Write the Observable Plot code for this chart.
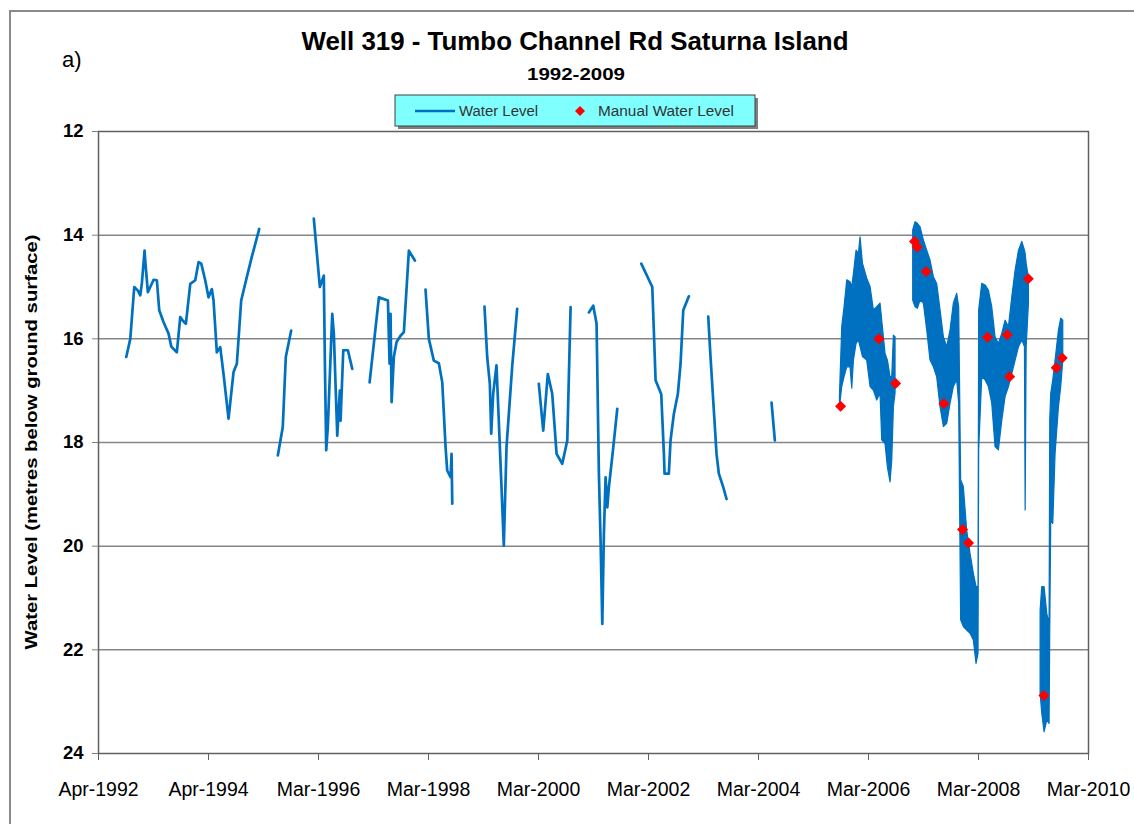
<!DOCTYPE html>
<html>
<head>
<meta charset="utf-8">
<script src="https://cdn.jsdelivr.net/npm/d3@7"></script>
<script src="https://cdn.jsdelivr.net/npm/@observablehq/plot@0.6"></script>
<style>
  html, body { margin: 0; padding: 0; background: #fff; overflow: hidden; }
  #wrap { position: relative; width: 1134px; height: 824px; overflow: hidden;
          font-family: "Liberation Sans", "DejaVu Sans", sans-serif; }
  #outer { position: absolute; left: 9px; top: 10px; width: 1140px; height: 830px;
           border: 2px solid #8a8a8a; box-sizing: border-box; }
  #chart { position: absolute; left: 0; top: 0; }
  #ov { position: absolute; left: 0; top: 0; pointer-events: none; }
</style>
</head>
<body>
<div id="wrap">
  <div id="outer"></div>
  <div id="chart"></div>
  <svg id="ov" width="1134" height="824" xmlns="http://www.w3.org/2000/svg"></svg>
</div>
<script>
// ---------------- DATA ----------------
const chartTitle = "Well 319 - Tumbo Channel Rd Saturna Island";
const chartSubtitle = "1992-2009";
const panelTag = "a)";
const yTitle = "Water Level (metres below ground surface)";
const legendNames = ["Water Level", "Manual Water Level"];

const xTickDates = ["1992-04-01", "1994-04-01", "1996-03-31", "1998-03-31", "2000-03-30",
                    "2002-03-30", "2004-03-29", "2006-03-29", "2008-03-28", "2010-03-28"];
const xTickLabels = ["Apr-1992", "Apr-1994", "Mar-1996", "Mar-1998", "Mar-2000",
                     "Mar-2002", "Mar-2004", "Mar-2006", "Mar-2008", "Mar-2010"];
const yTicks = [12, 14, 16, 18, 20, 22, 24];
const yGrid = [14, 16, 18, 20, 22];

// Logger record (decimal year, metres below ground); null marks a gap in the record
const loggerYear = [
  1992.752,1992.825,1992.897,1992.963,1993.006,1993.035,1993.084,1993.097,1993.144,1993.188,
  1993.248,1993.308,1993.351,1993.430,1993.520,1993.570,1993.671,1993.733,1993.780,1993.835,
  1993.915,1994.006,1994.066,1994.115,1994.187,1994.247,1994.307,1994.338,1994.398,1994.460,
  1994.520,1994.611,1994.702,1994.762,1994.841,1994.943,1995.034,1995.169, null,
  1995.507,1995.597,1995.652,1995.750, null,
  1996.161,1996.270,1996.342,1996.361,1996.386,1996.415,1996.495,1996.524,1996.586,1996.633,
  1996.646,1996.695,1996.779,1996.858, null,
  1997.173,1997.342,1997.506,1997.536,1997.554,1997.573,1997.614,1997.663,1997.736,1997.796,
  1997.887,1997.996, null,
  1998.190,1998.250,1998.341,1998.432,1998.494,1998.554,1998.584,1998.645,1998.663,1998.676, null,
  1999.262,1999.311,1999.359,1999.384,1999.420,1999.480,1999.522,1999.566,1999.613,1999.662,
  1999.765,1999.856, null,
  2000.249,2000.329,2000.412,2000.492,2000.571,2000.674,2000.765,2000.825, null,
  2001.157,2001.237,2001.297,2001.339,2001.370,2001.401,2001.430,2001.461,2001.492,2001.521,
  2001.601,2001.673, null,
  2002.110,2002.310,2002.370,2002.473,2002.521,2002.533,2002.611,2002.642,2002.702,2002.775,
  2002.824,2002.873,2002.975, null,
  2003.327,2003.369,2003.418,2003.478,2003.520,2003.600,2003.660, null,
  2004.477,2004.537
];
const loggerLevel = [
  16.35,16.00,15.00,15.07,15.16,14.93,14.30,14.50,15.10,15.00,
  14.86,14.87,15.45,15.68,15.90,16.15,16.26,15.58,15.65,15.71,
  14.94,14.87,14.52,14.55,14.87,15.20,15.04,15.26,16.26,16.16,
  16.68,17.54,16.64,16.48,15.26,14.81,14.42,13.88, null,
  18.25,17.70,16.35,15.84, null,
  13.68,15.00,14.78,16.42,18.15,17.70,15.52,15.90,17.87,17.00,
  17.58,16.22,16.22,16.58, null,
  16.84,15.20,15.26,16.48,15.52,17.22,16.35,16.06,15.94,15.87,
  14.30,14.49, null,
  15.05,16.00,16.42,16.47,16.84,18.09,18.54,18.67,18.22,19.18, null,
  15.38,16.35,16.87,17.83,17.06,16.51,17.58,18.73,19.99,18.09,
  16.54,15.42, null,
  16.87,17.77,16.68,17.06,18.22,18.41,17.96,15.39, null,
  15.49,15.36,15.71,18.60,19.89,21.50,19.76,18.67,19.25,18.86,
  18.09,17.35, null,
  14.55,15.00,16.80,17.07,18.22,18.60,18.60,17.96,17.45,17.06,
  16.48,15.45,15.18, null,
  15.57,16.35,17.19,18.22,18.60,18.86,19.09, null,
  17.23,17.96
];

// High-frequency logger record 2005-2009: range of the daily swings (shallowest / deepest)
const denseYear = [
  2005.719,2005.761,2005.803,2005.852,2005.912,2005.943,2005.973,2006.021,2006.064,2006.094,
  2006.137,2006.215,2006.276,2006.336,2006.397,2006.457,2006.488,2006.548,2006.591,2006.639,
  2006.670,2006.700,2006.730, null,
  2007.051,2007.094,2007.136,2007.185,2007.245,2007.306,2007.366,2007.427,2007.487,2007.548,
  2007.609,2007.669,2007.730,2007.790,2007.851,2007.887,2007.923,2007.972,2008.032,2008.093,
  2008.153,2008.202,2008.238,2008.250,2008.305,2008.365,2008.426,2008.487,2008.547,2008.608,
  2008.669,2008.729,2008.790,2008.850,2008.911,2008.972,2009.032,2009.080,2009.093,2009.111,
  2009.153, null,
  2009.365,2009.395,2009.437,2009.486,2009.528,2009.540,2009.558,2009.595,2009.637,2009.698,
  2009.740,2009.777
];
const denseHigh = [
  17.12,15.77,15.39,14.87,14.91,15.00,14.75,14.30,14.36,14.04,
  14.55,14.84,15.00,15.45,15.39,15.32,15.65,16.29,16.42,16.74,
  16.74,15.94,15.97, null,
  13.91,13.75,13.78,13.85,14.10,14.30,14.49,14.81,14.94,15.45,
  15.97,16.16,15.84,15.32,15.13,15.39,18.73,18.86,19.70,20.15,
  20.53,20.79,20.79,15.45,14.94,14.97,15.07,15.39,15.97,16.10,
  15.90,15.65,15.77,15.20,14.68,14.30,14.13,14.30,14.36,14.55,
  14.84, null,
  21.24,20.79,20.79,21.31,21.50,17.58,17.06,16.80,16.42,15.84,
  15.61,15.65
];
const denseLow = [
  17.32,16.93,16.74,16.55,16.55,16.96,16.42,16.10,16.03,16.16,
  16.35,16.42,16.93,17.00,17.19,17.06,17.96,18.03,18.48,18.77,
  18.35,17.32,17.06, null,
  15.26,15.39,15.42,15.26,15.32,15.84,16.42,16.55,16.74,17.32,
  17.70,17.64,17.25,16.93,16.80,17.25,21.43,21.56,21.63,21.69,
  21.82,22.27,22.08,18.15,16.74,16.80,16.93,17.25,18.09,18.15,
  17.58,17.12,16.93,16.68,16.42,16.16,16.03,16.16,19.31,16.16,
  15.32, null,
  22.85,23.23,23.59,23.36,23.43,21.63,19.50,19.57,18.22,17.32,
  16.93,16.42
];

// Manual water level measurements
const manualYear = [2005.731,2006.427,2006.730,2007.075,2007.124,2007.287,2007.609,2007.948,
                    2008.057,2008.402,2008.759,2008.801,2009.141,2009.425,2009.649,2009.758];
const manualLevel = [17.30,16.00,16.86,14.12,14.23,14.70,17.25,19.68,
                     19.94,15.97,15.92,16.73,14.84,22.88,16.56,16.37];

// ---------------- BUILD ----------------
const BLUE = "#0070c0", RED = "#ff0000";
function yearToDate(y) {
  if (y == null) return null;
  const yr = Math.floor(y);
  const s = Date.UTC(yr, 0, 1), e = Date.UTC(yr + 1, 0, 1);
  return new Date(s + (y - yr) * (e - s));
}
const logger = loggerYear.map((y, i) => ({date: yearToDate(y), level: loggerLevel[i]}));
const dense = denseYear.map((y, i) => ({date: yearToDate(y), high: denseHigh[i], low: denseLow[i]}));
const manual = manualYear.map((y, i) => ({date: yearToDate(y), level: manualLevel[i]}));
const xTicks = xTickDates.map(s => new Date(s + "T00:00:00Z"));
const labelOf = new Map(xTicks.map((d, i) => [+d, xTickLabels[i]]));

const FONT = '"Liberation Sans", "DejaVu Sans", sans-serif';

const chart = Plot.plot({
  width: 1134,
  height: 824,
  marginLeft: 98,
  marginRight: 46,
  marginTop: 131,
  marginBottom: 71,
  style: {fontFamily: FONT, fontSize: "17px", color: "#000", background: "transparent", overflow: "visible"},
  x: {type: "utc", domain: [xTicks[0], xTicks[xTicks.length - 1]]},
  y: {domain: [12, 24], reverse: true},
  marks: [
    Plot.gridY(yGrid, {stroke: "#868686", strokeOpacity: 1, strokeWidth: 1.5}),
    Plot.frame({stroke: "#606060", strokeWidth: 1.5}),
    Plot.axisX(xTicks, {tickFormat: d => labelOf.get(+d), tickSize: 7, tickPadding: 22,
                        stroke: "#606060", fontSize: 19.5, label: null}),
    Plot.axisY(yTicks, {tickFormat: d => String(d), tickSize: 6, tickPadding: 9, stroke: "#808080",
                        fontSize: 18.5, fontWeight: "bold", label: null}),
    Plot.areaY(dense, {x: "date", y1: "high", y2: "low", fill: BLUE, stroke: BLUE, strokeWidth: 1.2}),
    Plot.line(logger, {x: "date", y: "level", stroke: BLUE, strokeWidth: 2.7}),
    Plot.dot(manual, {x: "date", y: "level", symbol: "diamond2", r: 5, fill: RED, stroke: "none"})
  ]
});
document.getElementById("chart").appendChild(chart);

// ---------------- TITLES & LEGEND ----------------
const ov = d3.select("#ov");
ov.append("text").attr("x", 575).attr("y", 50).attr("text-anchor", "middle")
  .attr("font-family", FONT).attr("font-weight", "bold").attr("font-size", 25)
  .attr("textLength", 547).attr("lengthAdjust", "spacingAndGlyphs").text(chartTitle);
ov.append("text").attr("x", 576).attr("y", 80).attr("text-anchor", "middle")
  .attr("font-family", FONT).attr("font-weight", "bold").attr("font-size", 17)
  .attr("textLength", 98).attr("lengthAdjust", "spacingAndGlyphs").text(chartSubtitle);
ov.append("text").attr("x", 62).attr("y", 67)
  .attr("font-family", FONT).attr("font-size", 22).text(panelTag);
ov.append("text").attr("transform", "translate(37,442) rotate(-90)").attr("text-anchor", "middle")
  .attr("font-family", FONT).attr("font-weight", "bold").attr("font-size", 17)
  .attr("textLength", 415).attr("lengthAdjust", "spacingAndGlyphs").text(yTitle);

const lg = ov.append("g");
lg.append("rect").attr("x", 398).attr("y", 98).attr("width", 360).attr("height", 31).attr("fill", "#7f7f7f");
lg.append("rect").attr("x", 395).attr("y", 95).attr("width", 360).attr("height", 31)
  .attr("fill", "#80ffff").attr("stroke", "#404040").attr("stroke-width", 1);
lg.append("line").attr("x1", 415).attr("x2", 455).attr("y1", 111).attr("y2", 111)
  .attr("stroke", BLUE).attr("stroke-width", 2.4);
lg.append("text").attr("x", 459).attr("y", 116).attr("font-family", FONT).attr("font-size", 14)
  .attr("fill", "#333").attr("textLength", 79).attr("lengthAdjust", "spacingAndGlyphs").text(legendNames[0]);
lg.append("path").attr("d", "M580,106L585,111L580,116L575,111Z").attr("fill", RED);
lg.append("text").attr("x", 598).attr("y", 116).attr("font-family", FONT).attr("font-size", 14)
  .attr("fill", "#333").attr("textLength", 136).attr("lengthAdjust", "spacingAndGlyphs").text(legendNames[1]);
</script>
</body>
</html>
